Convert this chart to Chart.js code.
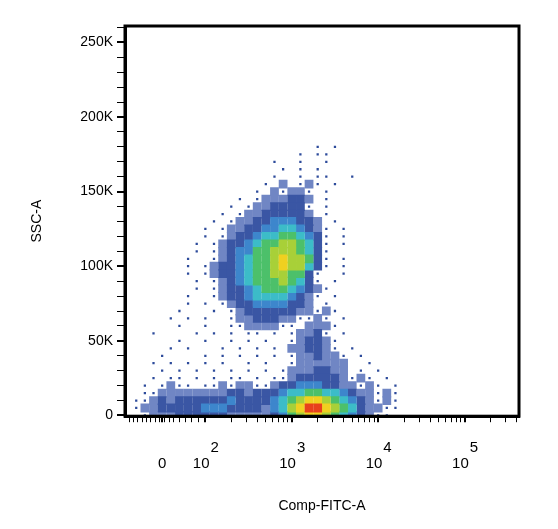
<!DOCTYPE html>
<html><head><meta charset="utf-8">
<script src="https://cdn.jsdelivr.net/npm/chart.js@4"></script>
<style>html,body{margin:0;padding:0;background:#fff}</style>
</head><body><canvas id="c" width="558" height="529" style="width:558px;height:529px;display:block"></canvas>
<script>
// Density grid. Columns: x (decade units) from xStart step xStep. Rows: SSC-A in K.
const xStart = 1.1, xStep = 0.1;
const rowLevelsK = [180,175,170,165,160,155,150,145,140,135,130,125,120,115,110,105,100,95,90,85,80,75,70,65,60,55,50,45,40,35,30,25,20,15,10,5,0];
const densityRows = [
"......................1.1........",
"....................1.11.........",
".................1..1..1.........",
"..................1.1.1..........",
".................1..1.11..1......",
"................1.2.121.1........",
"...............1.21221.1.........",
".............1.1222332.1.........",
"............1.12233331.1.........",
"...........1.122333332.1.........",
"..........1.12233444332.1........",
".........1.1223344554321.1.......",
".........1.1233455665431.1.......",
"........1.12334566776531.1.......",
"........1.12344667776531.........",
".......1..12345667877631.1.......",
".......1.123345667877531.1.......",
".......1.12334566776631..1.......",
"........1.1234566676531.1........",
"........1.12334566654321.........",
".......1..1233455554321.1........",
".......1.1.12334444332.1.........",
"......1...1.1233333322121........",
".....1.1.1..122333221121.1.......",
"......1..1..11222211.2221........",
"...1....1.1.1.11.1.12231.1.......",
"......1..1..1.1.1..123321........",
".....1.1...1.1.1.1.223321.1......",
"....1....1.1.1.1.1.1223221.1.....",
"...1.1.1.1.1..1.1..1222222..1....",
"....1.1.1.1.1.1.1.12223322.1.1...",
"...1.11.1.1.11.1.112333332121.1..",
"..1.1211.112122112334443322121.1.",
"..112222222233233345566554322121.",
".1123233333343333456788765432121.",
".1223333344433332457899876532211.",
"..12223333332222234678876543211.."
];
const xTickPos = [1.5, 2, 3, 4, 5];
const xTickBase = ['0', '10', '10', '10', '10'];
const xTickExp = ['', '2', '3', '4', '5'];

const pts = [];
densityRows.forEach((raw, r) => {
  const row = raw.padEnd(33,'.').slice(0,33);
  for (let c = 0; c < row.length; c++) {
    const v = row[c] === '.' ? 0 : +row[c];
    if (v > 0) pts.push({x: xStart + xStep * c, y: rowLevelsK[r] * 1000, v});
  }
});
pts.sort((a,b)=>a.v-b.v);

const cols = [null, '#2d4b9b', '#7086c4', '#3a56a4', '#3d86cc', '#3cbcc8', '#4cc06a', '#a8d038', '#f0d020', '#e8401c'];

const minorX=[];
for(let d=2; d<6; d++) for(let k=2;k<10;k++) minorX.push(d+Math.log10(k));
[1.12,1.17,1.22,1.27,1.32,1.37,1.42,1.47,1.53,1.58,1.63,1.7,1.77,1.84,1.92].forEach(v=>minorX.push(v));

const frame={id:'frame',afterDraw(ch){
  const a=ch.chartArea,g=ch.ctx;g.save();g.strokeStyle='#000';g.lineWidth=3;g.strokeRect(a.left,a.top,a.right-a.left,a.bottom-a.top);
  const sx=ch.scales.x;g.fillStyle='#000';g.textBaseline='alphabetic';g.font='15px "Liberation Sans"';g.textAlign='left';
  xTickPos.forEach((p,i)=>{
    const px=sx.getPixelForValue(p);
    const w=g.measureText(xTickBase[i]).width, we=xTickExp[i]?g.measureText(xTickExp[i]).width:0;
    const x0=px-(w+we)/2;
    g.fillText(xTickBase[i],x0,468);
    if(xTickExp[i]) g.fillText(xTickExp[i],x0+w+1,452);
  });
  g.restore();}};

new Chart(document.getElementById('c'),{
  type:'scatter',
  data:{datasets:[{data:pts,pointStyle:'rect',
    pointRadius:c=>{const v=c.raw&&c.raw.v;return v===1?1.6:6.2;},
    pointBackgroundColor:c=>cols[c.raw?c.raw.v:1]||'#2d4b9b',
    pointBorderWidth:0,borderWidth:0,pointHoverRadius:6}]},
  options:{responsive:false,animation:false,devicePixelRatio:1,
    layout:{padding:{top:26,right:39,left:25,bottom:0}},
    plugins:{legend:{display:false},tooltip:{enabled:false}},
    scales:{
      x:{type:'linear',min:1.07,max:5.63,
        afterBuildTicks(s){s.ticks=xTickPos.map(v=>({value:v,major:true})).concat(minorX.filter(v=>v<5.63).map(v=>({value:v})));},
        ticks:{autoSkip:false,maxRotation:0,padding:24,color:'#000',font:{family:'Liberation Sans',size:15},
          callback:()=>' '},
        grid:{drawOnChartArea:false,tickLength:6,color:'#000',lineWidth:c=>xTickPos.some(p=>Math.abs(p-c.tick.value)<1e-9)?2:1},
        border:{color:'#000',width:3},
        title:{display:true,text:'Comp-FITC-A',color:'#000',font:{family:'Liberation Sans',size:14},padding:{top:10,bottom:14}}},
      y:{min:-500,max:261000,
        afterBuildTicks(s){const t=[];for(let v=0;v<=260000;v+=10000)t.push({value:v});s.ticks=t;},
        afterFit(s){s.width=100;},
        ticks:{autoSkip:false,padding:4,color:'#000',font:{family:'Liberation Sans',size:14},
          callback:v=>v%50000===0?(v===0?'0':(v/1000)+'K'):''},
        grid:{drawOnChartArea:false,tickLength:8,color:'#000',lineWidth:c=>c.tick.value%50000===0?2:1},
        border:{color:'#000',width:3},
        title:{display:true,text:'SSC-A',color:'#000',font:{family:'Liberation Sans',size:14},padding:{bottom:20}}}
    }},
  plugins:[frame]
});
</script></body></html>
